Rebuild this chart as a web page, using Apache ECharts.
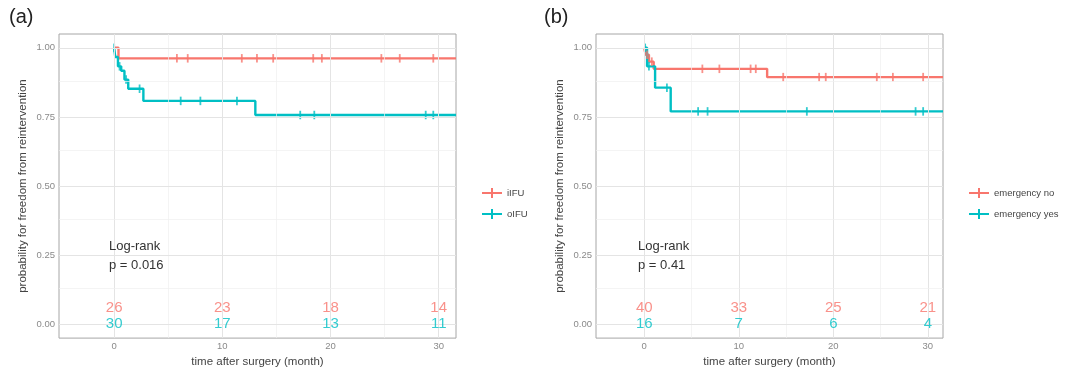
<!DOCTYPE html>
<html><head><meta charset="utf-8">
<script src="https://cdn.jsdelivr.net/npm/echarts@6/dist/echarts.min.js"></script>
<style>html,body{margin:0;padding:0;background:#fff}#c{width:1066px;height:373px}</style>
</head><body><div id="c"></div>
<script>
// ---- data ----
const xTicks = [0, 10, 20, 30];
const yTicks = [0, 0.25, 0.5, 0.75, 1];
const xMinorGrid = [5, 15, 25];
const yMinorGrid = [0.125, 0.375, 0.625, 0.875];
const riskTimes = [0, 10, 20, 30];

// panel (a)
const aNames = ['iIFU', 'oIFU'];
const aRedTimes = [0, 0.4, 31.6];
const aRedSurv  = [1, 0.962, 0.962];
const aRedCensor = [5.8, 6.8, 11.8, 13.2, 14.7, 18.4, 19.2, 24.7, 26.4, 29.5];
const aTealTimes = [0, 0.1, 0.35, 0.65, 0.95, 1.3, 2.7, 13.05, 31.6];
const aTealSurv  = [1, 0.967, 0.933, 0.917, 0.885, 0.852, 0.808, 0.757, 0.757];
const aTealCensor = [0, 0.5, 1.1, 2.35, 6.15, 7.97, 11.35, 17.2, 18.5, 28.8, 29.5];
const aRiskRed = [26, 23, 18, 14];
const aRiskTeal = [30, 17, 13, 11];
const aPValue = '0.016';

// panel (b)
const bNames = ['emergency no', 'emergency yes'];
const bRedTimes = [0, 0.15, 0.5, 1.0, 13.0, 31.6];
const bRedSurv  = [1, 0.975, 0.95, 0.924, 0.894, 0.894];
const bRedCensor = [0.3, 0.8, 6.15, 7.95, 11.25, 11.8, 14.7, 18.5, 19.2, 24.6, 26.3, 29.5];
const bTealTimes = [0, 0.3, 1.15, 2.8, 31.6];
const bTealSurv  = [1, 0.933, 0.856, 0.770, 0.770];
const bTealCensor = [0.1, 0.5, 2.4, 5.7, 6.7, 17.2, 28.7, 29.5];
const bRiskRed = [40, 33, 25, 21];
const bRiskTeal = [16, 7, 6, 4];
const bPValue = '0.41';

// ---- chart ----
const RED = '#F8766D', TEAL = '#00BFC4';
const FONT = 'Liberation Sans, Arial, Helvetica, sans-serif';
const legendIcon = 'path://M0,4H20V6H0Z M9,0H11V10H9Z';

function stepAt(times, surv, t) {
  let v = surv[0];
  for (let i = 0; i < times.length; i++) if (times[i] <= t) v = surv[i];
  return v;
}
function zip(a, b) { return a.map((v, i) => [v, b[i]]); }

function gridSeries(gi) {
  const major = {color: '#e4e4e4', width: 1, type: 'solid'};
  const minor = {color: '#efefef', width: 0.7, type: 'solid'};
  const d = [];
  xTicks.forEach(v => d.push({xAxis: v, lineStyle: major}));
  xMinorGrid.forEach(v => d.push({xAxis: v, lineStyle: minor}));
  yTicks.forEach(v => d.push({yAxis: v, lineStyle: major}));
  yMinorGrid.forEach(v => d.push({yAxis: v, lineStyle: minor}));
  return {
    type: 'line', xAxisIndex: gi, yAxisIndex: gi, data: [], z: 1, silent: true,
    markLine: {symbol: ['none', 'none'], silent: true, label: {show: false},
      animation: false, data: d}
  };
}
function kmSeries(gi, name, color, times, surv, censor) {
  return [{
    type: 'line', name, xAxisIndex: gi, yAxisIndex: gi, step: 'end',
    showSymbol: false, symbol: 'none', z: 3, clip: true,
    itemStyle: {color}, lineStyle: {color, width: 2.4},
    data: zip(times, surv)
  }, {
    type: 'scatter', name, xAxisIndex: gi, yAxisIndex: gi, z: 4,
    symbol: 'rect', symbolSize: [1.8, 8.5], itemStyle: {color},
    data: censor.map(t => [t, stepAt(times, surv, t)])
  }];
}
function riskSeries(gi, counts, yPos, color) {
  return {
    type: 'scatter', name: 'risk' + gi + color, xAxisIndex: gi, yAxisIndex: gi, z: 5,
    symbolSize: 1, itemStyle: {color: 'rgba(0,0,0,0)'},
    label: {show: true, position: 'inside', formatter: p => String(p.value[2]),
      fontSize: 15, color, fontFamily: FONT},
    labelLayout: {hideOverlap: false},
    data: riskTimes.map((t, i) => [t, yPos, counts[i]])
  };
}
function xAx(gi) {
  return {
    gridIndex: gi, type: 'value', min: -5.1, max: 31.6,
    splitLine: {show: false}, axisLine: {show: false},
    axisTick: {show: true, customValues: xTicks, length: 3, lineStyle: {color: '#8c8c8c'}},
    axisLabel: {customValues: xTicks, fontSize: 9.5, color: '#8a8a8a', margin: 3, fontFamily: FONT},
    name: 'time after surgery (month)', nameLocation: 'middle', nameGap: 17,
    nameTextStyle: {fontSize: 11.5, color: '#444', fontFamily: FONT}
  };
}
function yAx(gi) {
  return {
    gridIndex: gi, type: 'value', min: -0.05, max: 1.05,
    splitLine: {show: false}, axisLine: {show: false},
    axisTick: {show: true, customValues: yTicks, length: 3, lineStyle: {color: '#8c8c8c'}},
    axisLabel: {customValues: yTicks, fontSize: 9.5, color: '#8a8a8a', margin: 4,
      formatter: v => Number(v).toFixed(2), fontFamily: FONT},
    name: 'probability for freedom from reintervention', nameLocation: 'middle', nameGap: 30,
    nameTextStyle: {fontSize: 11.5, color: '#444', fontFamily: FONT}
  };
}
function legend(left, names) {
  return {
    orient: 'vertical', left, top: 183, itemWidth: 20, itemHeight: 10, itemGap: 11,
    selectedMode: false, textStyle: {fontSize: 9.5, color: '#444', fontFamily: FONT},
    data: names.map(n => ({name: n, icon: legendIcon}))
  };
}

const chart = echarts.init(document.getElementById('c'), null, {renderer: 'canvas'});
chart.setOption({
  animation: false,
  backgroundColor: '#fff',
  textStyle: {fontFamily: FONT},
  grid: [
    {left: 59, top: 34, width: 397, height: 308, show: true, borderColor: '#a6a6a6', borderWidth: 1, backgroundColor: 'transparent'},
    {left: 596, top: 34, width: 347, height: 308, show: true, borderColor: '#a6a6a6', borderWidth: 1, backgroundColor: 'transparent'}
  ],
  xAxis: [xAx(0), xAx(1)],
  yAxis: [yAx(0), yAx(1)],
  legend: [legend(477, aNames), legend(964, bNames)],
  graphic: [
    {type: 'text', z: 100, left: 9, top: 7, style: {text: '(a)', fontSize: 20, fill: '#222', fontFamily: FONT}},
    {type: 'text', z: 100, left: 544, top: 7, style: {text: '(b)', fontSize: 20, fill: '#222', fontFamily: FONT}},
    {type: 'text', z: 100, left: 109, top: 237, style: {text: 'Log-rank\np = ' + aPValue, fontSize: 13, lineHeight: 19, fill: '#333', fontFamily: FONT}},
    {type: 'text', z: 100, left: 638, top: 237, style: {text: 'Log-rank\np = ' + bPValue, fontSize: 13, lineHeight: 19, fill: '#333', fontFamily: FONT}}
  ],
  series: [
    gridSeries(0), gridSeries(1),
    ...kmSeries(0, aNames[0], RED, aRedTimes, aRedSurv, aRedCensor),
    ...kmSeries(0, aNames[1], TEAL, aTealTimes, aTealSurv, aTealCensor),
    ...kmSeries(1, bNames[0], RED, bRedTimes, bRedSurv, bRedCensor),
    ...kmSeries(1, bNames[1], TEAL, bTealTimes, bTealSurv, bTealCensor),
    riskSeries(0, aRiskRed, 0.058, RED), riskSeries(0, aRiskTeal, 0, TEAL),
    riskSeries(1, bRiskRed, 0.058, RED), riskSeries(1, bRiskTeal, 0, TEAL)
  ]
});
</script></body></html>
